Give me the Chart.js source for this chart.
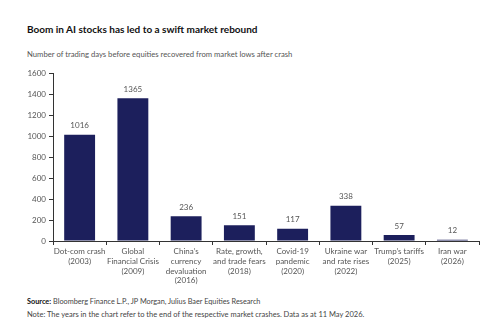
<!DOCTYPE html>
<html>
<head>
<meta charset="utf-8">
<script src="https://cdn.jsdelivr.net/npm/chart.js@4"></script>
<style>
  body { margin: 0; width: 500px; height: 322px; background: #fff; font-family: Lato, sans-serif; position: relative; overflow: hidden; }
  .t { position: absolute; left: 27px; white-space: nowrap; }
  #title { top: 23px; font-size: 10px; font-weight: bold; color: #111; }
  #sub { top: 49px; font-size: 7.7px; color: #555; }
  #src { top: 297px; font-size: 7.3px; color: #444; }
  #note { top: 310px; font-size: 7.5px; color: #444; }
  #wrap { position: absolute; left: 0; top: 66px; width: 490px; height: 223px; }
</style>
</head>
<body>
<div class="t" id="title">Boom in AI stocks has led to a swift market rebound</div>
<div class="t" id="sub">Number of trading days before equities recovered from market lows after crash</div>
<div id="wrap"><canvas id="chart"></canvas></div>
<div class="t" id="src"><b style="color:#111">Source:</b> Bloomberg Finance L.P., JP Morgan, Julius Baer Equities Research</div>
<div class="t" id="note">Note: The years in the chart refer to the end of the respective market crashes. Data as at 11 May 2026.</div>
<script>
// данные
const categories = [
  ['Dot-com crash', '(2003)'],
  ['Global', 'Financial Crisis', '(2009)'],
  ['China’s', 'currency', 'devaluation', '(2016)'],
  ['Rate, growth,', 'and trade fears', '(2018)'],
  ['Covid-19', 'pandemic', '(2020)'],
  ['Ukraine war', 'and rate rises', '(2022)'],
  ['Trump’s tariffs', '(2025)'],
  ['Iran war', '(2026)']
];
const tradingDays = [1016, 1365, 236, 151, 117, 338, 57, 12];
const yTicks = [0, 200, 400, 600, 800, 1000, 1200, 1400, 1600];

// подписи значений над столбцами
const valueLabels = {
  id: 'valueLabels',
  afterDatasetsDraw(chart) {
    const ctx = chart.ctx;
    const meta = chart.getDatasetMeta(0);
    ctx.save();
    ctx.font = '8px Lato';
    ctx.fillStyle = '#555';
    ctx.textAlign = 'center';
    ctx.textBaseline = 'bottom';
    meta.data.forEach((bar, i) => {
      ctx.fillText(tradingDays[i], bar.x, bar.y - 5);
    });
    ctx.restore();
  }
};

new Chart(document.getElementById('chart'), {
  type: 'bar',
  data: {
    labels: categories,
    datasets: [{
      data: tradingDays,
      backgroundColor: '#1c1f5c',
      barPercentage: 0.58,
      categoryPercentage: 1
    }]
  },
  plugins: [valueLabels],
  options: {
    responsive: true,
    maintainAspectRatio: false,
    animation: false,
    layout: { padding: { top: 5, right: 11, left: 0, bottom: 0 } },
    plugins: { legend: { display: false }, tooltip: { enabled: false } },
    scales: {
      x: {
        grid: { display: true, drawOnChartArea: false, tickLength: 4, color: '#333', offset: true },
        border: { color: '#333' },
        ticks: { color: '#555', font: { family: 'Lato', size: 8 }, maxRotation: 0, autoSkip: false, padding: 2 },
        afterFit(s) { s.height = 48; }
      },
      y: {
        min: 0,
        max: 1600,
        afterBuildTicks(s) { s.ticks = yTicks.map(v => ({ value: v })); },
        grid: { display: true, drawOnChartArea: false, tickLength: 4, color: '#333' },
        border: { color: '#333' },
        ticks: { color: '#555', font: { family: 'Lato', size: 8 }, padding: 3, callback: v => String(v) },
        afterFit(s) { s.width = 53; }
      }
    }
  }
});
</script>
</body>
</html>
